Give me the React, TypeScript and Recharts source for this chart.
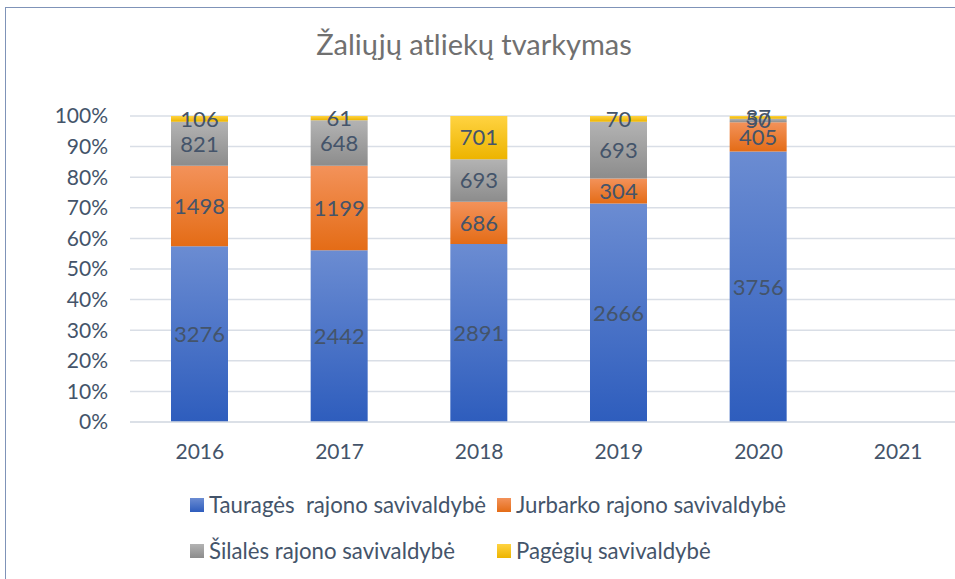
import { BarChart, Bar, XAxis, YAxis, CartesianGrid, LabelList } from 'recharts'

const years = ['2016', '2017', '2018', '2019', '2020', '2021']
const taurage = [3276, 2442, 2891, 2666, 3756, 0]
const jurbarkas = [1498, 1199, 686, 304, 405, 0]
const silale = [821, 648, 693, 693, 50, 0]
const pagegiai = [106, 61, 701, 70, 37, 0]
const yTicks = [0, 0.1, 0.2, 0.3, 0.4, 0.5, 0.6, 0.7, 0.8, 0.9, 1]

const series = [
    { key: 'taurage', name: 'Tauragės  rajono savivaldybė', top: '#6B8CD2', bottom: '#2E5DBD' },
    { key: 'jurbarkas', name: 'Jurbarko rajono savivaldybė', top: '#F3925A', bottom: '#E46C16' },
    { key: 'silale', name: 'Šilalės rajono savivaldybė', top: '#B3B3B3', bottom: '#8C8C8C' },
    { key: 'pagegiai', name: 'Pagėgių savivaldybė', top: '#FFD341', bottom: '#EDB400' },
]

const data = years.map((year, i) => ({
    year,
    taurage: taurage[i],
    jurbarkas: jurbarkas[i],
    silale: silale[i],
    pagegiai: pagegiai[i],
}))

const font = 'Lato, "Open Sans", sans-serif'
const textColor = '#44546A'

export default function App() {
    return (
        <div style={{ position: 'absolute', left: 0, top: 0, width: 955, height: 579, overflow: 'hidden', background: '#fff', fontFamily: font }}>
            <div style={{ position: 'absolute', left: 5, top: 7, width: 1100, height: 700, borderLeft: '1px solid #7F93B8', borderTop: '1px solid #7F93B8' }} />
            <div style={{ position: 'absolute', left: 0, top: 26, width: 948, textAlign: 'center', fontSize: 29, color: '#707070' }}>
                Žaliųjų atliekų tvarkymas
            </div>
            <div style={{ position: 'absolute', left: 0, top: 0 }}>
                <BarChart
                    width={1000}
                    height={579}
                    data={data}
                    stackOffset="expand"
                    margin={{ top: 116, right: 32, left: 0, bottom: 117 }}
                >
                    <defs>
                        {series.map(s => (
                            <linearGradient key={s.key} id={'g-' + s.key} x1="0" y1="0" x2="0" y2="1">
                                <stop offset="0%" stopColor={s.top} />
                                <stop offset="100%" stopColor={s.bottom} />
                            </linearGradient>
                        ))}
                    </defs>
                    <CartesianGrid vertical={false} stroke="#D9DEE6" strokeWidth={1.5} />
                    <XAxis
                        dataKey="year"
                        height={40}
                        axisLine={{ stroke: '#D9DEE6', strokeWidth: 1.5 }}
                        tickLine={false}
                        tickSize={0}
                        tickMargin={22}
                        tick={{ fill: textColor, fontSize: 21, fontFamily: font }}
                    />
                    <YAxis
                        width={130}
                        domain={[0, 1]}
                        ticks={yTicks}
                        interval={0}
                        axisLine={false}
                        tickLine={false}
                        tickSize={0}
                        tickMargin={22}
                        tickFormatter={(v: number) => Math.round(v * 100) + '%'}
                        tick={{ fill: textColor, fontSize: 21, fontFamily: font }}
                    />
                    {series.map(s => (
                        <Bar
                            key={s.key}
                            dataKey={s.key}
                            name={s.name}
                            stackId="a"
                            barSize={57}
                            fill={`url(#g-${s.key})`}
                            isAnimationActive={false}
                        >
                            <LabelList
                                dataKey={s.key}
                                position="center"
                                formatter={(v: any) => (v ? v : '')}
                                style={{ fill: textColor, fontSize: 22, fontFamily: font }}
                            />
                        </Bar>
                    ))}
                </BarChart>
            </div>
            {series.map((s, i) => (
                <div
                    key={s.key}
                    style={{
                        position: 'absolute',
                        left: i % 2 === 0 ? 190 : 497,
                        top: i < 2 ? 491 : 537,
                        height: 28,
                        lineHeight: '28px',
                        display: 'flex',
                        alignItems: 'center',
                        fontSize: 22.2,
                        color: textColor,
                        whiteSpace: 'pre',
                    }}
                >
                    <span style={{ display: 'inline-block', width: 14, height: 14, marginRight: 5, background: `linear-gradient(${s.top}, ${s.bottom})` }} />
                    {s.name}
                </div>
            ))}
        </div>
    )
}
